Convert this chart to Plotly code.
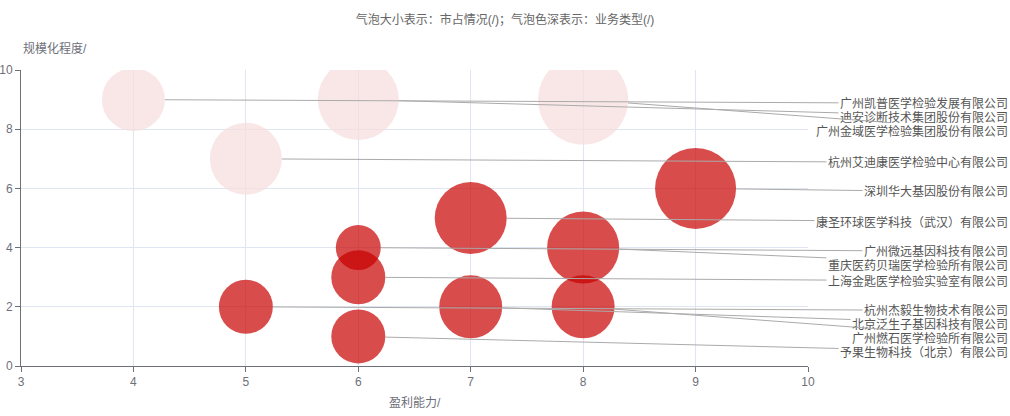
import plotly.graph_objects as go

# 数据
companies = [
    "广州凯普医学检验发展有限公司",
    "迪安诊断技术集团股份有限公司",
    "广州金域医学检验集团股份有限公司",
    "杭州艾迪康医学检验中心有限公司",
    "深圳华大基因股份有限公司",
    "康圣环球医学科技（武汉）有限公司",
    "广州微远基因科技有限公司",
    "重庆医药贝瑞医学检验所有限公司",
    "上海金匙医学检验实验室有限公司",
    "杭州杰毅生物技术有限公司",
    "北京泛生子基因科技有限公司",
    "广州燃石医学检验所有限公司",
    "予果生物科技（北京）有限公司",
]
profit = [4, 6, 8, 5, 9, 7, 6, 8, 6, 5, 7, 8, 6]  # 盈利能力
scale = [9, 9, 9, 7, 6, 5, 4, 4, 3, 2, 2, 2, 1]  # 规模化程度
market = [7, 9, 10, 8, 9, 8, 5, 8, 6, 6, 7, 7, 6]  # 市占情况
biz_type = [1, 1, 1, 1, 2, 2, 2, 2, 2, 2, 2, 2, 2]  # 业务类型

# 布局常量
W, H = 1010, 416
M_L, M_R, M_T, M_B = 21, 202, 70, 50
X_RANGE = [3, 10]
Y_RANGE = [0, 10]
SIZE_K = 9  # symbolSize = 市占 * 9
LABEL_GAP = 14  # 标签间距 px
LABEL_DY = 4  # 标签相对气泡下移 px
plot_w = W - M_L - M_R
plot_h = H - M_T - M_B
y_per_px = (Y_RANGE[1] - Y_RANGE[0]) / plot_h

fig = go.Figure()
fig.add_trace(
    go.Scatter(
        x=profit,
        y=scale,
        mode="markers",
        text=companies,
        marker=dict(
            size=market,
            sizemode="diameter",
            sizeref=1 / SIZE_K,
            color=biz_type,
            colorscale=[[0, "rgb(246,221,221)"], [1, "rgb(200,0,0)"]],
            cmin=1,
            cmax=2,
            opacity=0.7,
            line=dict(width=0),
        ),
        showlegend=False,
        hoverinfo="text",
    )
)

# 标签位置 (shiftY 防重叠)
gap = LABEL_GAP * y_per_px
order = sorted(range(len(scale)), key=lambda i: -scale[i])
label_y = [0] * len(scale)
prev = None
for i in order:
    yy = scale[i] - LABEL_DY * y_per_px
    if prev is not None and yy > prev - gap:
        yy = prev - gap
    label_y[i] = yy
    prev = yy

label_x = X_RANGE[0] + (X_RANGE[1] - X_RANGE[0]) * (W - M_L) / plot_w

annotations = []
for i, name in enumerate(companies):
    annotations.append(
        dict(
            x=profit[i],
            y=scale[i],
            xref="x",
            yref="y",
            ax=label_x,
            ay=label_y[i],
            axref="x",
            ayref="y",
            text=name,
            showarrow=True,
            arrowhead=0,
            arrowwidth=1,
            arrowcolor="#aaaaaa",
            standoff=market[i] * SIZE_K / 2,
            xanchor="right",
            yanchor="middle",
            font=dict(size=12, color="#555555"),
        )
    )

annotations.append(
    dict(
        text="规模化程度/",
        xref="paper",
        yref="paper",
        x=0,
        y=1 + 21 / plot_h,
        xanchor="left",
        yanchor="middle",
        showarrow=False,
        font=dict(size=12, color="#6E7079"),
    )
)
annotations.append(
    dict(
        text="盈利能力/",
        xref="paper",
        yref="paper",
        x=0.5,
        y=-37 / plot_h,
        xanchor="center",
        yanchor="middle",
        showarrow=False,
        font=dict(size=12, color="#6E7079"),
    )
)

fig.update_layout(
    width=W,
    height=H,
    margin=dict(l=M_L, r=M_R, t=M_T, b=M_B, autoexpand=False),
    paper_bgcolor="white",
    plot_bgcolor="white",
    font=dict(family="Liberation Sans, Noto Sans CJK SC, sans-serif", size=12, color="#6E7079"),
    title=dict(
        text="气泡大小表示：市占情况(/)；气泡色深表示：业务类型(/)",
        x=0.5,
        xref="container",
        xanchor="center",
        y=1 - 20 / H,
        yref="container",
        yanchor="middle",
        font=dict(size=12, color="#666666"),
    ),
    xaxis=dict(
        range=X_RANGE,
        dtick=1,
        showgrid=True,
        gridcolor="#E0E6F1",
        zeroline=False,
        showline=True,
        linecolor="#6E7079",
        ticks="outside",
        ticklen=5,
        tickcolor="#6E7079",
        tickfont=dict(size=12, color="#6E7079"),
        automargin=False,
    ),
    yaxis=dict(
        range=Y_RANGE,
        dtick=2,
        showgrid=True,
        gridcolor="#E0E6F1",
        zeroline=False,
        showline=True,
        linecolor="#6E7079",
        ticks="outside",
        ticklen=5,
        tickcolor="#6E7079",
        tickfont=dict(size=12, color="#6E7079"),
        automargin=False,
    ),
    annotations=annotations,
)

# 去掉页面默认边距，隐藏工具栏
fig.write_html(
    "out.html",
    config={"displayModeBar": False},
    post_script="document.body.style.margin='0';",
)
